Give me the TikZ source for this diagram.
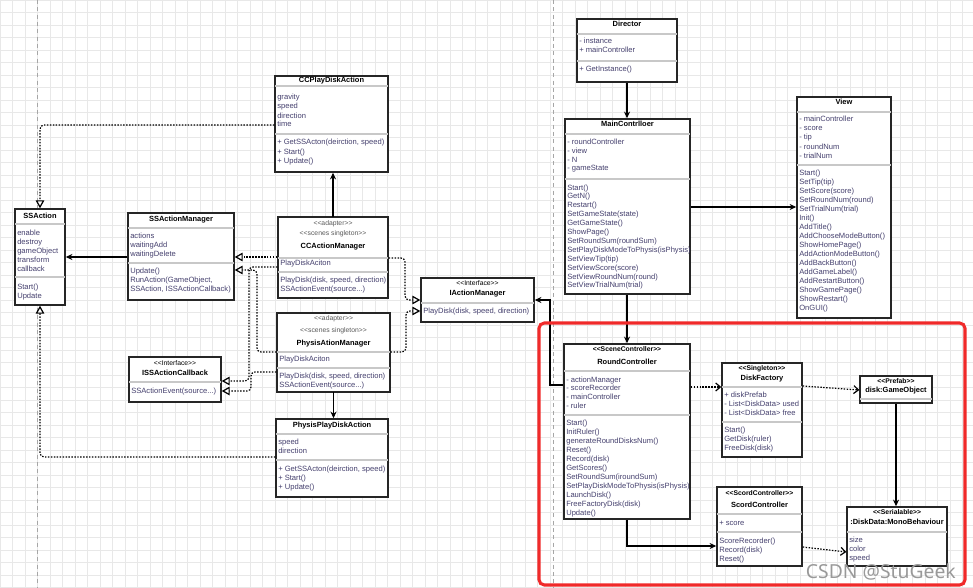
\documentclass[tikz,border=0pt]{standalone}
\usepackage{fontspec}
\setmainfont{Liberation Sans}
\newfontfamily\markfont{Noto Sans}
\usetikzlibrary{arrows.meta,fit}
\definecolor{UmlText}{HTML}{45406E}
\definecolor{UmlSep}{HTML}{C8C8C8}
\definecolor{GridGray}{HTML}{E8E8E8}
\definecolor{FrameRed}{HTML}{F02A2A}
\newcommand{\stereo}[1]{<\kern0pt<#1>\kern0pt>}
\newcommand{\tridot}{...}
\tikzset{
	cls/.style={draw=black!85,line width=1.1pt,fill=white,inner sep=0pt},
	sep/.style={UmlSep,line width=0.9pt},
	ttl/.style={font=\bfseries\fontsize{5.6}{6.75}\selectfont,inner sep=0pt,text height=4.1pt,text depth=1.1pt},
	ster/.style={font=\fontsize{5.1}{6}\selectfont,text=black!65,inner sep=0pt,text height=3.8pt,text depth=1pt},
	sterb/.style={font=\bfseries\fontsize{5.1}{6}\selectfont,inner sep=0pt,text height=3.8pt,text depth=1pt},
	mem/.style={font=\fontsize{5.7}{6.75}\selectfont,text=UmlText,anchor=west,inner sep=0pt,text height=4.2pt,text depth=1.2pt},
	assoc/.style={draw=black,line width=0.9pt,-{Stealth[length=5pt,width=4.5pt]}},
	real/.style={draw=black,line width=0.9pt,dash pattern=on 1.1pt off 1.1pt,rounded corners=3pt,-{Triangle[open,length=6pt,width=6.5pt]}},
	dep/.style={draw=black,line width=0.9pt,dash pattern=on 1.1pt off 1.1pt,-{Straight Barb[length=3.5pt,width=6pt]}},
}
\begin{document}
\begin{tikzpicture}[x=0.75pt,y=-0.75pt]
	\useasboundingbox (0,0) rectangle (973,588);
	\fill[white] (0,0) rectangle (973,588);
	\foreach \gx in {0,12.5,...,973}
	\draw[GridGray,line width=0.6pt] (\gx,0) -- (\gx,588);
	\foreach \gy in {0,12.5,...,588}
	\draw[GridGray,line width=0.6pt] (0,\gy) -- (973,\gy);
	\draw[black!35,line width=0.7pt,dash pattern=on 3pt off 2.5pt] (37,0) -- (37,588) (553,0) -- (553,588);

	\node[cls,fit={(15,209)(65,305)}] (ssa) {};
	\node[ttl] (ssa-t) at (40,216) {SSAction};
	\draw[sep] (15,224) -- (65,224) (15,277) -- (65,277);
	\foreach \t [count=\i from 0] in {enable,destroy,gameObject,transform,callback}
	\node[mem] (ssa-a\i) at (17,233+9*\i) {\t};
	\foreach \t [count=\i from 0] in {Start(),Update}
	\node[mem] (ssa-m\i) at (17,287+9*\i) {\t};

	\node[cls,fit={(128,213)(234,300)}] (ssam) {};
	\node[ttl] (ssam-t) at (181,219) {SSActionManager};
	\draw[sep] (128,228) -- (234,228) (128,263) -- (234,263);
	\foreach \t [count=\i from 0] in {actions,waitingAdd,waitingDelete}
	\node[mem] (ssam-a\i) at (130,236+9*\i) {\t};
	\foreach \t [count=\i from 0] in {Update(),{RunAction(GameObject,},{SSAction, ISSActionCallback)}}
	\node[mem] (ssam-m\i) at (130,271+9*\i) {\t};

	\node[cls,fit={(275,76)(388,172)}] (ccp) {};
	\node[ttl] (ccp-t) at (331.5,81) {CCPlayDiskAction};
	\draw[sep] (275,86) -- (388,86) (275,134) -- (388,134);
	\foreach \t [count=\i from 0] in {gravity,speed,direction,time}
	\node[mem] (ccp-a\i) at (277,98+9*\i) {\t};
	\foreach \t [count=\i from 0] in {{+ GetSSActon(deirction, speed)},+ Start(),+ Update()}
	\node[mem] (ccp-m\i) at (277,143+9*\i) {\t};

	\node[cls,fit={(278,217)(388,298)}] (ccm) {};
	\node[ster] (ccm-s1) at (333,224) {\stereo{adapter}};
	\node[ster] (ccm-s2) at (333,234) {\stereo{scenes singleton}};
	\node[ttl] (ccm-t) at (333,246) {CCActionManager};
	\draw[sep] (278,258) -- (388,258) (278,272) -- (388,272);
	\node[mem] (ccm-a0) at (280,263.5) {PlayDiskAciton};
	\foreach \t [count=\i from 0] in {{PlayDisk(disk, speed, direction)},{SSActionEvent(source\tridot)}}
	\node[mem] (ccm-m\i) at (280,280+9*\i) {\t};

	\node[cls,fit={(277,313)(390,392)}] (pam) {};
	\node[ster] (pam-s1) at (333.5,319) {\stereo{adapter}};
	\node[ster] (pam-s2) at (333.5,331) {\stereo{scenes singleton}};
	\node[ttl] (pam-t) at (333.5,343) {PhysisAtionManager};
	\draw[sep] (277,352) -- (390,352) (277,368) -- (390,368);
	\node[mem] (pam-a0) at (279,359.5) {PlayDiskAciton};
	\foreach \t [count=\i from 0] in {{PlayDisk(disk, speed, direction)},{SSActionEvent(source\tridot)}}
	\node[mem] (pam-m\i) at (279,376+9*\i) {\t};

	\node[cls,fit={(276,419)(388,497)}] (ppa) {};
	\node[ttl] (ppa-t) at (332,425) {PhysisPlayDiskAction};
	\draw[sep] (276,434) -- (388,434) (276,460) -- (388,460);
	\foreach \t [count=\i from 0] in {speed,direction}
	\node[mem] (ppa-a\i) at (278,442+9*\i) {\t};
	\foreach \t [count=\i from 0] in {{+ GetSSActon(deirction, speed)},+ Start(),+ Update()}
	\node[mem] (ppa-m\i) at (278,469+9*\i) {\t};

	\node[cls,fit={(129,357)(221,402)}] (iss) {};
	\node[ster,text=black] (iss-s) at (175,364) {\stereo{Interface}};
	\node[ttl] (iss-t) at (175,373) {ISSActionCallback};
	\draw[sep] (129,382) -- (221,382);
	\node[mem] (iss-m0) at (131,391) {SSActionEvent(source\tridot)};

	\node[cls,fit={(421,278)(534,322)}] (iam) {};
	\node[ster,text=black] (iam-s) at (477.5,284) {\stereo{Interface}};
	\node[ttl] (iam-t) at (477.5,293) {IActionManager};
	\draw[sep] (421,303) -- (534,303);
	\node[mem] (iam-m0) at (423,311) {PlayDisk(disk, speed, direction)};

	\node[cls,fit={(577,19)(677,82)}] (dir) {};
	\node[ttl] (dir-t) at (627,25) {Director};
	\draw[sep] (577,34) -- (677,34) (577,61) -- (677,61);
	\foreach \t [count=\i from 0] in {- instance,+ mainController}
	\node[mem] (dir-a\i) at (579,42+9*\i) {\t};
	\node[mem] (dir-m0) at (579,70) {+ GetInstance()};

	\node[cls,fit={(565,119)(690,294)}] (mc) {};
	\node[ttl] (mc-t) at (627.5,125) {MainContrlloer};
	\draw[sep] (565,134) -- (690,134) (565,179) -- (690,179);
	\foreach \t [count=\i from 0] in {- roundController,- view,- N,- gameState}
	\node[mem] (mc-a\i) at (567,142+9*\i) {\t};
	\foreach \t [count=\i from 0] in {Start(),GetN(),Restart(),SetGameState(state),GetGameState(),ShowPage(),SetRoundSum(roundSum),SetPlayDiskModeToPhysis(isPhysis),SetViewTip(tip),SetViewScore(score),SetViewRoundNum(round),SetViewTrialNum(trial)}
	\node[mem] (mc-m\i) at (567,188+8.9*\i) {\t};

	\node[cls,fit={(797,97)(891,318)}] (view) {};
	\node[ttl] (view-t) at (844,103) {View};
	\draw[sep] (797,112) -- (891,112) (797,165) -- (891,165);
	\foreach \t [count=\i from 0] in {- mainController,- score,- tip,- roundNum,- trialNum}
	\node[mem] (view-a\i) at (799,120+9*\i) {\t};
	\foreach \t [count=\i from 0] in {Start(),SetTip(tip),SetScore(score),SetRoundNum(round),SetTrialNum(trial),Init(),AddTitle(),AddChooseModeButton(),ShowHomePage(),AddActionModeButton(),AddBackButton(),AddGameLabel(),AddRestartButton(),ShowGamePage(),ShowRestart(),OnGUI()}
	\node[mem] (view-m\i) at (799,173+9*\i) {\t};

	\node[cls,fit={(564,344)(690,519)}] (rc) {};
	\node[sterb] (rc-s) at (627,350) {\stereo{SceneController}};
	\node[ttl] (rc-t) at (627,362) {RoundController};
	\draw[sep] (564,371) -- (690,371) (564,415) -- (690,415);
	\foreach \t [count=\i from 0] in {- actionManager,- scoreRecorder,- mainController,- ruler}
	\node[mem] (rc-a\i) at (566,380+8.8*\i) {\t};
	\foreach \t [count=\i from 0] in {Start(),InitRuler(),generateRoundDisksNum(),Reset(),Record(disk),GetScores(),SetRoundSum(iroundSum),SetPlayDiskModeToPhysis(isPhysis),LaunchDisk(),FreeFactoryDisk(disk),Update()}
	\node[mem] (rc-m\i) at (566,423+9*\i) {\t};

	\node[cls,fit={(722,363)(802,457)}] (df) {};
	\node[sterb] (df-s) at (762,368.5) {\stereo{Singleton}};
	\node[ttl] (df-t) at (762,378) {DiskFactory};
	\draw[sep] (722,387) -- (802,387) (722,422) -- (802,422);
	\foreach \t [count=\i from 0] in {+ diskPrefab,- List<DiskData> used,- List<DiskData> free}
	\node[mem] (df-a\i) at (724,395+9*\i) {\t};
	\foreach \t [count=\i from 0] in {Start(),GetDisk(ruler),FreeDisk(disk)}
	\node[mem] (df-m\i) at (724,430+9*\i) {\t};

	\node[cls,fit={(860,376)(932,403)}] (go) {};
	\node[sterb] (go-s) at (896,381.5) {\stereo{Prefab}};
	\node[ttl] (go-t) at (896,390) {disk:GameObject};
	\draw[sep] (860,399) -- (932,399);

	\node[cls,fit={(717,487)(802,566)}] (sc) {};
	\node[sterb] (sc-s) at (759.5,494) {\stereo{ScordController}};
	\node[ttl] (sc-t) at (759.5,505) {ScordController};
	\draw[sep] (717,514) -- (802,514) (717,532) -- (802,532);
	\node[mem] (sc-a0) at (719,523) {+ score};
	\foreach \t [count=\i from 0] in {ScoreRecorder(),Record(disk),Reset()}
	\node[mem] (sc-m\i) at (719,541+9*\i) {\t};

	\node[cls,fit={(847,507)(947,566)}] (dd) {};
	\node[sterb] (dd-s) at (897,513) {\stereo{Serialable}};
	\node[ttl] (dd-t) at (897,522) {:DiskData:MonoBehaviour};
	\draw[sep] (847,532) -- (947,532);
	\foreach \t [count=\i from 0] in {size,color,speed}
	\node[mem] (dd-a\i) at (849,540+9*\i) {\t};

	\draw[assoc] (ssam.west |- 0,257) -- (ssa.east |- 0,257);
	\draw[assoc] (ccm.north |- 0,217) -- (ccm.north |- ccp.south);
	\draw[assoc] (pam.south |- 0,392) -- (pam.south |- ppa.north);
	\draw[real] (ccp.west |- 0,125) -| (ssa.north);
	\draw[real] (ppa.west |- 0,457) -| (ssa.south);
	\draw[real] (ccm.west |- 0,257) -- (ssam.east |- 0,257);
	\draw[real] (pam.west |- 0,352) -| (257,270) -- (ssam.east |- 0,270);
	\draw[real] (ccm.west |- 0,267) -| (249,381) -- (iss.east |- 0,381);
	\draw[real] (pam.west |- 0,372) -| (251,391) -- (iss.east |- 0,391);
	\draw[real] (ccm.east |- 0,258) -| (405,300) -- (iam.west |- 0,300);
	\draw[real] (pam.east |- 0,352) -| (406,311) -- (iam.west |- 0,311);
	\draw[assoc] (dir.south) -- (dir.south |- mc.north);
	\draw[assoc] (mc.east |- 0,207) -- (view.west |- 0,207);
	\draw[assoc] (rc.north |- mc.south) -- (rc.north);
	\draw[assoc] (rc.west |- 0,385) -| (550,300) -- (iam.east |- 0,300);
	\draw[dep] (rc.east |- 0,387) -- (df.west |- 0,387);
	\draw[dep] (df.east |- 0,386) -- (go.west |- 0,390);
	\draw[assoc] (go.south) -- (go.south |- dd.north);
	\draw[assoc] (rc.south) |- (sc.west |- 0,546);
	\draw[dep] (sc.east |- 0,547) -- (dd.west |- 0,552);

	\draw[FrameRed,line width=2.3pt,rounded corners=4pt] (539,323) rectangle (965,585);
	\node[text=black!40,anchor=base east,inner sep=0pt,font=\markfont\fontsize{14.5}{15}\selectfont] (mark) at (956,578) {CSDN @StuGeek};
\end{tikzpicture}
\end{document}
